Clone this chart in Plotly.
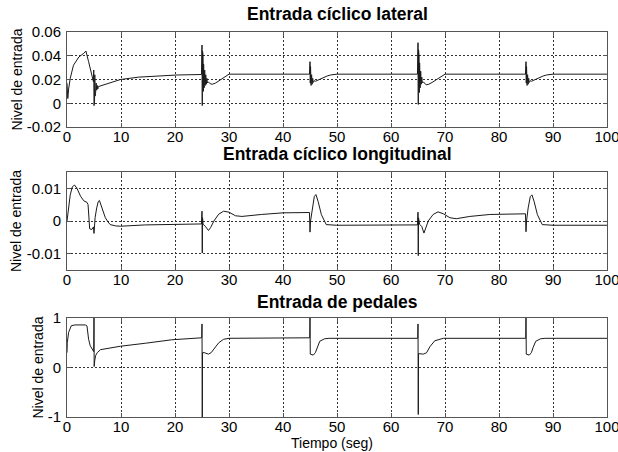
import plotly.graph_objects as go

# ---------------- data ----------------
t_lat = [0, 0.15, 0.3, 0.6, 1.2, 2.2, 3.1, 3.5, 4.0, 4.6, 4.9,
         4.95, 5.0, 5.05, 5.1, 5.15, 5.2, 5.25, 5.3, 5.4, 5.5, 5.6, 5.7, 5.8,
         6.5, 7.1, 9.9, 13.3, 16.4, 20.4, 24.9,
         25.0, 25.05, 25.1, 25.15, 25.2, 25.25, 25.3, 25.4, 25.5, 25.6, 25.7, 25.8, 25.9, 26.0,
         26.2, 26.5, 26.9, 27.5, 28.2, 29.0, 29.6, 30.0, 44.9,
         45.0, 45.05, 45.1, 45.2, 45.3, 45.4, 45.5, 45.6, 45.8, 46.0, 46.5, 47.0, 47.5, 48.2, 48.8, 50.0, 64.9,
         65.0, 65.05, 65.1, 65.15, 65.2, 65.25, 65.3, 65.4, 65.5, 65.6, 65.7, 65.8, 66.0,
         66.5, 67.0, 67.6, 68.3, 69.0, 69.6, 70.0, 84.9,
         85.0, 85.05, 85.1, 85.2, 85.3, 85.4, 85.5, 85.6, 85.8, 86.0, 86.5, 87.0, 87.5, 88.2, 88.8, 90.0, 100.0]
y_lat = [0.017, 0.004, 0.012, 0.021, 0.032, 0.039, 0.042, 0.044, 0.035, 0.024, 0.018,
         0.028, -0.002, 0.027, 0.001, 0.024, 0.006, 0.020, 0.009, 0.017, 0.011, 0.015, 0.012, 0.014,
         0.015, 0.016, 0.020, 0.022, 0.0228, 0.0238, 0.0242,
         0.049, -0.002, 0.044, 0.005, 0.040, 0.010, 0.033, 0.013, 0.028, 0.015, 0.024, 0.016, 0.021, 0.017,
         0.018, 0.0165, 0.016, 0.017, 0.019, 0.0215, 0.0235, 0.0245, 0.0245,
         0.035, 0.017, 0.031, 0.015, 0.024, 0.016, 0.021, 0.0175, 0.019, 0.0185, 0.0195, 0.021, 0.022, 0.023, 0.0238, 0.0245, 0.0245,
         0.051, -0.001, 0.045, 0.004, 0.040, 0.009, 0.034, 0.013, 0.027, 0.016, 0.022, 0.017, 0.018,
         0.0155, 0.016, 0.0175, 0.0195, 0.022, 0.0235, 0.0245, 0.0245,
         0.035, 0.017, 0.031, 0.015, 0.024, 0.016, 0.021, 0.0175, 0.019, 0.0185, 0.0195, 0.021, 0.022, 0.023, 0.0238, 0.0245, 0.0245]

t_lon = [0, 0.3, 0.6, 1.0, 1.4, 1.85, 2.5, 3.1, 3.7, 3.9, 4.05, 4.2, 4.6, 4.9, 5.0, 5.05, 5.2, 5.5, 5.8,
         6.0, 6.5, 7.1, 7.6, 8.0, 9.0, 9.9, 14.5, 19.4, 24.9,
         25.0, 25.05, 25.1, 25.2, 25.6, 26.2, 26.6, 27.2, 28.1, 29.0, 30.0, 31.2, 32.4, 36.0, 40.0, 44.9,
         45.0, 45.1, 45.4, 45.8, 46.1, 46.5, 47.1, 47.6, 48.0, 49.9, 64.9,
         65.0, 65.05, 65.1, 65.3, 65.7, 66.1, 66.5, 66.9, 67.8, 68.7, 69.7, 70.9, 72.1, 74.6, 78.3, 82.6, 84.9,
         85.0, 85.1, 85.4, 85.8, 86.1, 86.5, 87.1, 87.6, 88.0, 90.0, 100.0]
y_lon = [0.0, 0.005, 0.008, 0.0105, 0.011, 0.010, 0.0076, 0.0062, 0.0057, 0.005, 0.002, -0.0024, -0.0026, -0.0018, -0.0038, -0.001, 0.001, 0.004, 0.006,
         0.0063, 0.004, 0.001, -0.0003, -0.0011, -0.0015, -0.0016, -0.0012, -0.0011, -0.0009,
         0.003, -0.0098, 0.001, -0.001, -0.0016, -0.0029, -0.002, 0.0, 0.0021, 0.003, 0.0027, 0.0016, 0.0014, 0.002, 0.0025, 0.0026,
         -0.0034, 0.0, 0.004, 0.0075, 0.0081, 0.006, 0.002, 0.0, -0.0011, -0.0013, -0.0012,
         0.0027, -0.0106, 0.001, -0.001, -0.0017, -0.0037, -0.002, 0.0, 0.002, 0.0028, 0.0022, 0.001, 0.0007, 0.0014, 0.002, 0.0022, 0.0022,
         -0.0033, 0.0, 0.004, 0.0075, 0.008, 0.006, 0.002, 0.0, -0.0011, -0.0013, -0.0013]

t_ped = [0, 0.05, 0.3, 0.8, 1.5, 3.4, 3.7, 4.0, 4.3, 4.75, 4.95,
         5.0, 5.03, 5.08, 5.15, 5.3, 5.6, 6.2, 7.1, 9.9, 14.5, 19.4, 24.95,
         25.0, 25.05, 25.1, 25.4, 26.2, 26.7, 27.2, 28.1, 29.0, 30.0, 44.95,
         45.0, 45.05, 45.6, 46.0, 46.3, 46.8, 47.7, 48.5, 64.95,
         65.0, 65.05, 65.1, 66.0, 66.6, 67.2, 68.1, 69.7, 84.95,
         85.0, 85.05, 85.6, 86.0, 86.3, 86.8, 87.7, 88.5, 100.0]
y_ped = [0.3, 0.5, 0.71, 0.845, 0.86, 0.86, 0.84, 0.57, 0.44, 0.36, 0.32,
         1.0, 0.02, 0.3, 0.15, 0.24, 0.3, 0.36, 0.38, 0.43, 0.49, 0.56, 0.6,
         0.88, -1.0, 0.3, 0.3, 0.27, 0.3, 0.37, 0.5, 0.57, 0.59, 0.6,
         1.0, 0.27, 0.25, 0.3, 0.4, 0.53, 0.58, 0.59, 0.59,
         0.88, -0.95, 0.28, 0.27, 0.3, 0.42, 0.54, 0.59, 0.59,
         1.0, 0.27, 0.25, 0.3, 0.4, 0.53, 0.58, 0.59, 0.59]

titles = ["Entrada cíclico lateral", "Entrada cíclico longitudinal", "Entrada de pedales"]
ylabel = "Nivel de entrada"
xlabel = "Tiempo (seg)"
x_ticks = [0, 10, 20, 30, 40, 50, 60, 70, 80, 90, 100]
y_ranges = [[-0.02, 0.06], [-0.015, 0.015], [-1, 1]]
y_ticks = [[-0.02, 0, 0.02, 0.04, 0.06], [-0.01, 0, 0.01], [-1, 0, 1]]
y_ticktext = [["-0.02", "0", "0.02", "0.04", "0.06"], ["-0.01", "0", "0.01"], ["-1", "0", "1"]]

# ---------------- figure ----------------
W, H = 618, 452
FONT = "Liberation Sans, Arial, sans-serif"
x_dom = [67 / W, 607 / W]
y_px = [(32, 127), (172, 270), (318, 417)]
y_doms = [[1 - b / H, 1 - t / H] for (t, b) in y_px]
title_y = [14, 154, 302]
ylab_x = [16, 16, 37]

fig = go.Figure()
series = [(t_lat, y_lat), (t_lon, y_lon), (t_ped, y_ped)]
for i, (tt, yy) in enumerate(series):
    sfx = "" if i == 0 else str(i + 1)
    fig.add_trace(go.Scatter(x=tt, y=yy, mode="lines",
                             line=dict(color="#1a1a1a", width=1),
                             xaxis="x" + sfx, yaxis="y" + sfx, showlegend=False))
    axcommon = dict(showline=True, linecolor="#555555", linewidth=1, mirror="ticks",
                    ticks="inside", ticklen=4, tickcolor="#555555",
                    showgrid=True, gridcolor="#333333", griddash="2px,2px", gridwidth=1,
                    zeroline=False, ticklabeloverflow="allow", automargin=False,
                    tickfont=dict(family=FONT, size=15, color="black"))
    fig.update_layout(**{
        "xaxis" + sfx: dict(domain=x_dom, range=[0, 100], tickvals=x_ticks,
                            anchor="y" + sfx, ticklabelstandoff=-4, **axcommon),
        "yaxis" + sfx: dict(domain=y_doms[i], range=y_ranges[i], tickvals=y_ticks[i],
                            ticktext=y_ticktext[i], anchor="x" + sfx,
                            ticklabelstandoff=2, **axcommon),
    })
    fig.add_annotation(text="<b>%s</b>" % titles[i], xref="paper", yref="paper",
                       x=337 / W, y=1 - title_y[i] / H, xanchor="center", yanchor="middle",
                       showarrow=False, font=dict(family=FONT, size=17.5, color="black"))
    fig.add_annotation(text=ylabel, xref="paper", yref="paper",
                       x=ylab_x[i] / W, y=1 - ((y_px[i][0] + y_px[i][1]) / 2) / H,
                       xanchor="center", yanchor="middle", textangle=-90,
                       showarrow=False, font=dict(family=FONT, size=14, color="black"))

fig.add_annotation(text=xlabel, xref="paper", yref="paper", x=332 / W, y=1 - 443 / H,
                   xanchor="center", yanchor="middle", showarrow=False,
                   font=dict(family=FONT, size=14, color="black"))

fig.update_layout(width=W, height=H, autosize=False,
                  margin=dict(l=0, r=0, t=0, b=0, pad=0),
                  paper_bgcolor="white", plot_bgcolor="white",
                  font=dict(family=FONT, color="black"))

fig.write_html("out.html")
